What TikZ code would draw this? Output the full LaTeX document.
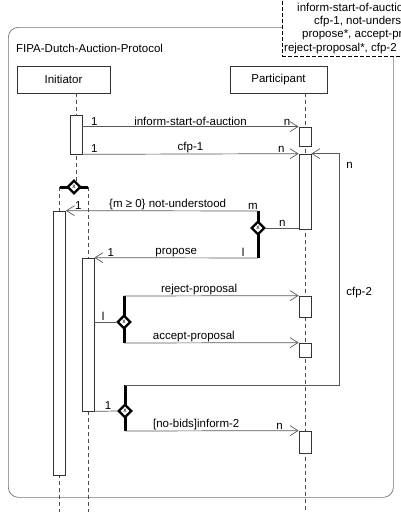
\documentclass[tikz,border=0pt]{standalone}
\usepackage{fontspec}
\setmainfont{Liberation Sans}
\usetikzlibrary{arrows.meta,shapes.geometric}

\begin{document}
\begin{tikzpicture}[
  x=1pt, y=-1pt,
  font=\fontsize{11.5}{13}\selectfont,
  frame/.style={draw=black!55, line width=0.7pt, rounded corners=10pt, inner sep=0pt},
  notebox/.style={draw=black, fill=white, line width=0.7pt, dash pattern=on 4pt off 2pt, inner sep=0pt},
  head/.style={draw=black!80, fill=white, line width=0.7pt, inner sep=0pt, minimum height=27pt},
  act/.style={draw=black!80, fill=white, line width=0.7pt, inner sep=0pt, minimum width=12pt},
  life/.style={draw=black!70, line width=0.7pt, dash pattern=on 4pt off 3pt},
  msg/.style={draw=black!65, line width=0.7pt, -{Straight Barb[length=8pt,width=10pt]}},
  link/.style={draw=black!65, line width=0.7pt},
  bar/.style={draw=black, line width=3pt},
  xdia/.style={diamond, draw=black, fill=white, line width=2.4pt, minimum size=13.5pt,
               inner sep=0pt, font=\fontsize{6.5}{6.5}\selectfont},
  lbl/.style={inner sep=1pt}
]
\useasboundingbox (0,0) rectangle (401,512);
\clip (0,0) rectangle (401,512);

%% Protocol frame and note
\node[frame, anchor=north west, minimum width=385pt, minimum height=470pt] (proto) at (8,27) {};
\node[anchor=west, inner sep=0pt] (title) at (16,48) {FIPA-Dutch-Auction-Protocol};
\node[notebox, anchor=south west, minimum width=140pt, minimum height=80pt] (note) at (282,57) {};
\foreach \yy/\xx/\txt [count=\i] in {8/297/{inform-start-of-auction,}, 22/314/{cfp-1, not-understood,},
    35/302/{propose*, accept-proposal*,}, 49/284/{reject-proposal*, cfp-2}}{
  \node[anchor=west, inner sep=0pt] (nl\i) at (\xx,\yy) {\txt};
}

%% Roles
\node[head, minimum width=93pt] (ini) at (63.5,79.5) {Initiator};
\node[head, minimum width=97pt] (par) at (278.5,79.5) {Participant};
\coordinate (iniL) at (76,0);
\coordinate (parL) at (305,0);
\coordinate (bot) at (0,512);
\coordinate (loopx) at (339,0);

%% Bars of the choices
\coordinate (b1l) at (59.5,187); \coordinate (b1r) at (88,187);
\coordinate (b2t) at (258,211);  \coordinate (b2b) at (258,258);
\coordinate (b3t) at (124,296);  \coordinate (b3b) at (124,343);
\coordinate (b4t) at (125,385);  \coordinate (b4b) at (125,431);

%% Lifelines
\draw[life] (ini.south -| iniL) -- (iniL |- b1l);
\draw[life] (b1l) -- (b1l |- bot);
\draw[life] (b1r) -- (b1r |- bot);
\draw[life] (par.south -| parL) -- (parL |- bot);

%% Activations
\foreach \nm/\xx/\yy/\hh in {a1/76/134.5/39, a2/59.5/343/264, a3/88/334.5/153,
    p1/305/136.5/19, p2/305/191.5/75, p3/305/306.5/21, p4/305/350/14, p5/305/442/22}{
  \node[act, minimum height=\hh pt] (\nm) at (\xx,\yy) {};
}

\draw[bar] (b1l) -- (b1r);
\draw[bar] (b2t) -- (b2b);
\draw[bar] (b3t) -- (b3b);
\draw[bar] (b4t) -- (b4b);
\node[xdia] (d1) at (74,187) {x};
\node[xdia] (d2) at (258,228) {x};
\node[xdia] (d3) at (124,322) {x};
\node[xdia] (d4) at (125,411) {x};

%% Messages
\draw[msg] (a1.east |- p1.north) -- (p1.north west)
  node[lbl, above, pos=.055] {1} node[lbl, above, pos=.947] {n}
  node[lbl, above, midway] {inform-start-of-auction};
\draw[msg] (a1.south east) -- (p2.north west)
  node[lbl, above, pos=.055] {1} node[lbl, above, pos=.92] {n}
  node[lbl, above, midway] {cfp-1};
\draw[msg] (b2t) -- (a2.north east)
  node[lbl, above, pos=.026] {m} node[lbl, above, pos=.935] {1}
  node[lbl, above, pos=.47] {\{m ≥ 0\} not-understood};
\draw[link] (d2.east) -- (d2.east -| p2.west) node[lbl, above, midway] {n};
\draw[msg] (b2b) -- (a3.north east)
  node[lbl, above, pos=.09] {l} node[lbl, above, pos=.9] {1}
  node[lbl, above, midway] {propose};
\draw[link] (a3.east |- d3) -- (d3.west) node[lbl, above, pos=.4] {l};
\draw[msg] (b3t) -- (p3.north west) node[inner sep=0.5pt, above, pos=.43] {reject-proposal};
\draw[msg] (b3b) -- (p4.north west) node[inner sep=0.5pt, above, pos=.4] {accept-proposal};
\draw[msg] (b4t) -- (b4t -| loopx) -- (p2.north east -| loopx)
  node[lbl, right, pos=.4, xshift=6pt] {cfp-2} node[lbl, right, pos=.95, xshift=6pt] {n}
  -- (p2.north east);
\draw[link] (a3.south east) -- (d4.west) node[lbl, above, pos=.6] {1};
\draw[msg] (b4b) -- (p5.north west)
  node[lbl, above, pos=.41] {[no-bids]inform-2} node[lbl, above, pos=.89] {n};
\end{tikzpicture}
\end{document}
